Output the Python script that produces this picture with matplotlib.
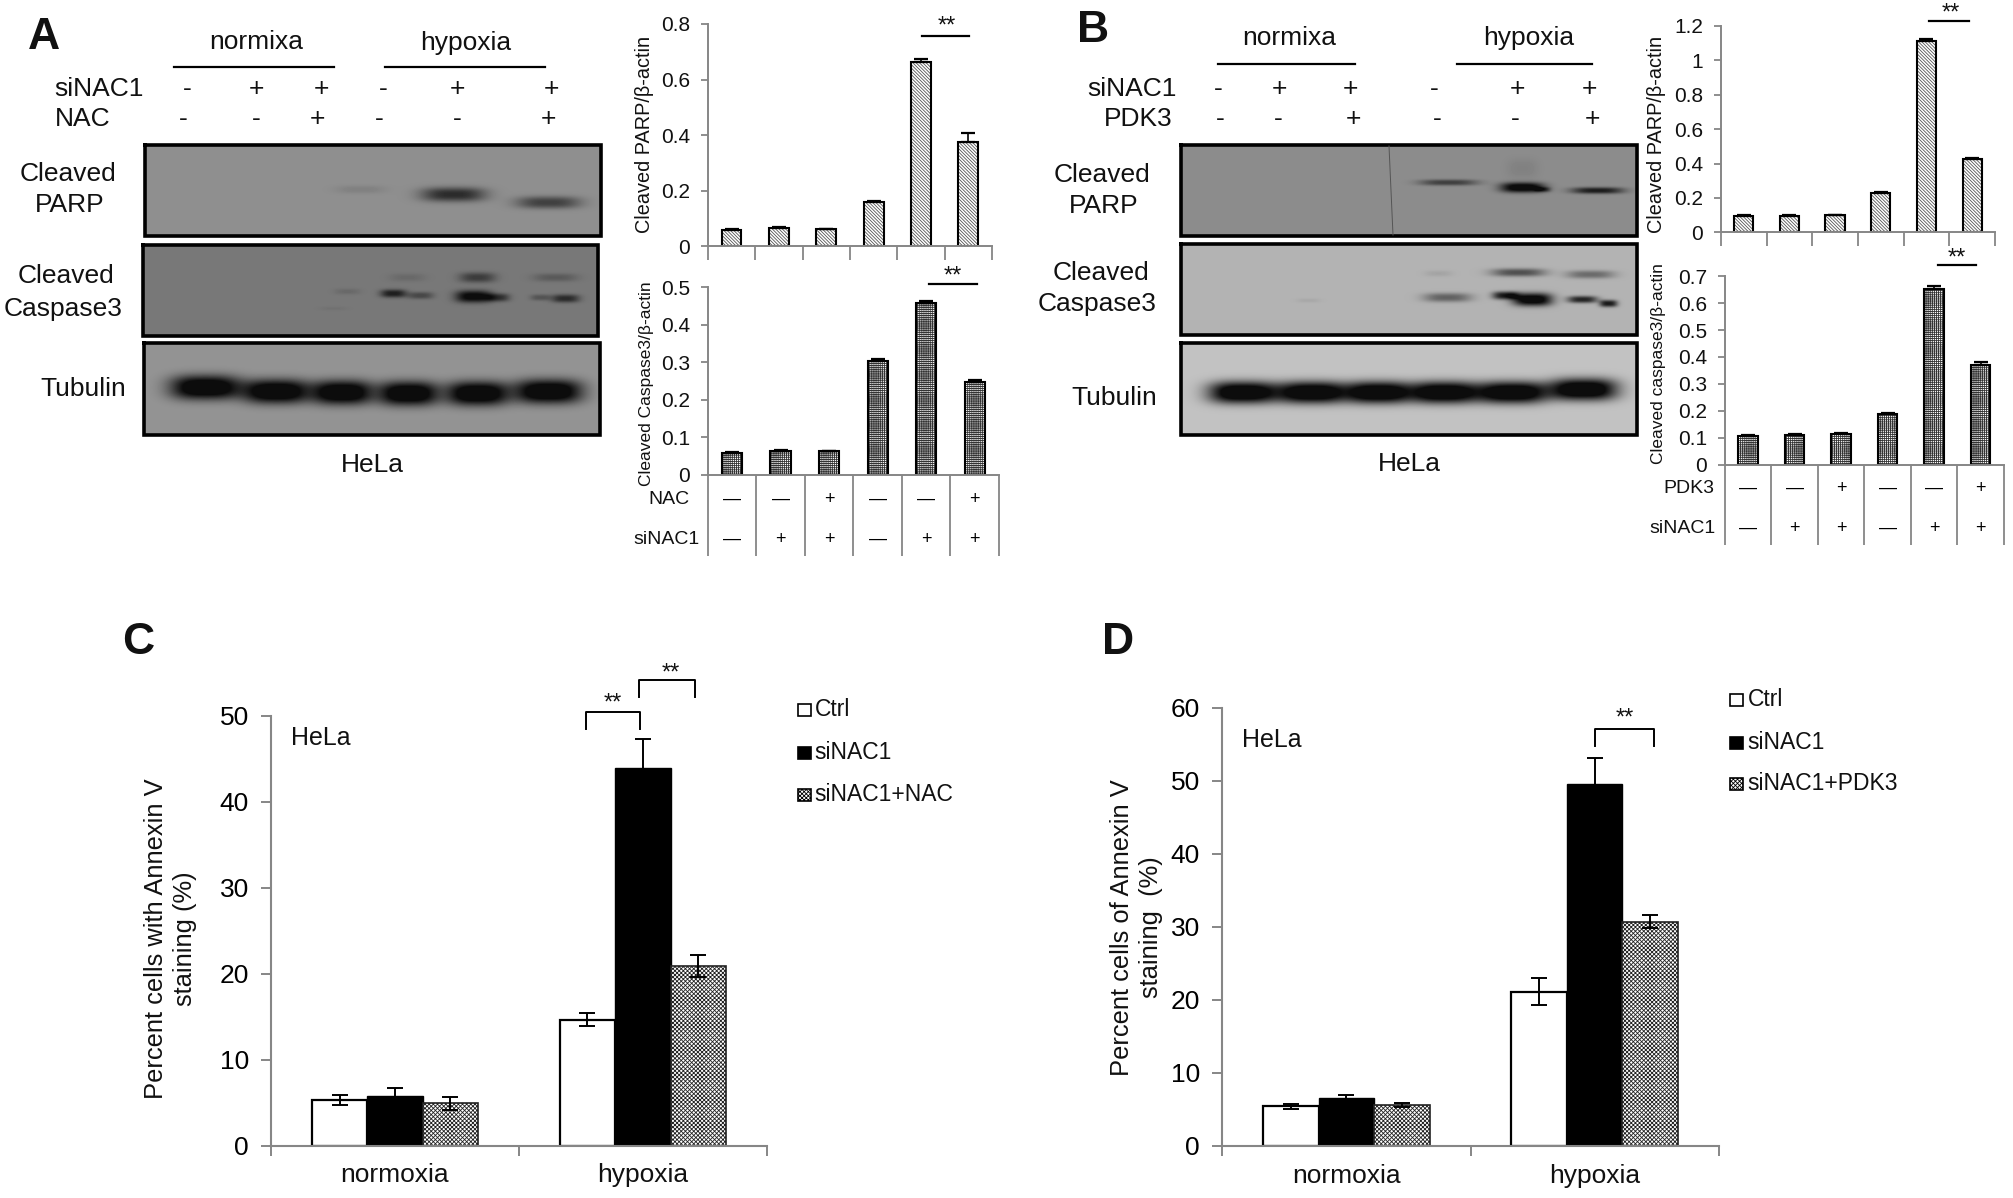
import matplotlib
matplotlib.use("Agg")
import matplotlib.pyplot as plt
import numpy as np
from matplotlib.transforms import blended_transform_factory

plt.rcParams["font.family"] = ["Liberation Sans", "DejaVu Sans"]
plt.rcParams["hatch.linewidth"] = 0.6

W, H = 2013, 1198
S = 0.997  # layout coordinates were read a little too large
GRAY = "#868686"

# western blot quantification, panels A and B
parp_a = [0.058, 0.066, 0.061, 0.159, 0.663, 0.376]
parp_a_err = [0.003, 0.003, 0.002, 0.004, 0.012, 0.030]
casp_a = [0.057, 0.064, 0.063, 0.304, 0.457, 0.247]
casp_a_err = [0.002, 0.002, 0.001, 0.003, 0.005, 0.005]
parp_b = [0.095, 0.095, 0.098, 0.229, 1.113, 0.426]
parp_b_err = [0.003, 0.003, 0.003, 0.005, 0.010, 0.004]
casp_b = [0.108, 0.111, 0.115, 0.189, 0.652, 0.370]
casp_b_err = [0.002, 0.003, 0.002, 0.002, 0.010, 0.012]

row_sinac1 = ["—", "+", "+", "—", "+", "+"]
row_drug = ["—", "—", "+", "—", "—", "+"]

# annexin V staining, panels C and D
groups = ["normoxia", "hypoxia"]
ctrl_c = [5.3, 14.65]
ctrl_c_err = [0.6, 0.75]
sinac_c = [5.8, 43.96]
sinac_c_err = [0.85, 3.4]
nac_c = [4.9, 20.9]
nac_c_err = [0.75, 1.25]
ctrl_d = [5.36, 21.1]
ctrl_d_err = [0.4, 1.85]
sinac_d = [6.55, 49.5]
sinac_d_err = [0.4, 3.6]
pdk_d = [5.57, 30.7]
pdk_d_err = [0.3, 0.9]

# blot bands: centre x, centre y, half width, half height, darkness
bands_a1 = [(360, 189, 25, 4, .1), (453, 194, 32, 7, .7), (548, 202, 32, 6, .55)]
bands_a2 = [(407, 277, 18, 4, .12), (393, 293, 13, 4, .75), (420, 295, 13, 3.5, .4),
            (477, 277, 18, 5, .5), (473, 296, 18, 6, 1), (497, 297, 12, 4, .6),
            (555, 277, 22, 4, .25), (540, 297, 10, 3, .3), (565, 298, 14, 4, .65),
            (347, 291, 13, 3, .12), (333, 308, 14, 2, .05)]
bands_a3 = [(205, 387, 35, 12, 1.2), (276, 391, 33, 12, 1.2), (342, 392, 30, 12, 1.2),
            (408, 393, 30, 12, 1.2), (477, 393, 31, 12, 1.2), (548, 391, 34, 12, 1.2)]
bands_b1 = [(1448, 182, 29, 3, .55), (1522, 187, 22, 5, 1.1), (1542, 189, 8, 2.5, .5),
            (1597, 190, 26, 3.2, .8), (1522, 168, 16, 10, .08)]
bands_b2 = [(1438, 273, 14, 3, .08), (1518, 272, 27, 4, .55), (1590, 274, 24, 4, .4),
            (1447, 297, 24, 4.5, .45), (1505, 295, 13, 4, .85), (1532, 299, 20, 6.5, 1.1),
            (1582, 299, 15, 3.5, .8), (1608, 303, 9, 3.5, .85), (1308, 300, 12, 2, .06)]
bands_b3 = [(1242, 392, 34, 11, 1.2), (1312, 392, 36, 11, 1.2), (1378, 392, 31, 11, 1.2),
            (1443, 392, 35, 11, 1.2), (1512, 392, 35, 11, 1.2), (1583, 389, 34, 11, 1.2)]

fig = plt.figure(figsize=(W / 100, H / 100), dpi=100)

# blots sit in true pixel coordinates
bl = fig.add_axes([0, 0, 1, 1], zorder=4)
bl.axis("off")
bl.patch.set_alpha(0)

ov = fig.add_axes([0, 0, 1, 1], zorder=5)
ov.set_xlim(0, W / S)
ov.set_ylim(H / S, 0)
ov.axis("off")
ov.patch.set_alpha(0)


def px_axes(l, t, r, b):
    l, t, r, b = l * S, t * S, r * S, b * S
    return fig.add_axes([l / W, 1 - b / H, (r - l) / W, (b - t) / H])


def label(x, y, s, size=19, ha="center", **kw):
    ov.text(x, y, s, fontsize=size, ha=ha, va="center", color="#111111", **kw)


def blot(l, t, r, b, bg, bands):
    xx, yy = np.meshgrid(np.arange(l, r), np.arange(t, b))
    img = np.full(xx.shape, bg, dtype=float)
    for xc, yc, hw, hh, dark in bands:
        img -= bg * dark * np.exp(-np.abs((xx - xc) / hw) ** 3 - np.abs((yy - yc) / hh) ** 2.5)
    bl.imshow(np.clip(img, 0.05, 1), cmap="gray", vmin=0, vmax=1, extent=(l, r, b, t),
              aspect="auto", interpolation="bilinear")
    bl.plot([l, r, r, l, l], [t, t, b, b, t], color="black", lw=2.6, solid_joinstyle="miter")


def small_bars(box, vals, errs, ymax, yticks, ticklabels, hatch, hatch_color, tick_len=14):
    ax = px_axes(*box)
    x = np.arange(6) + 0.5
    ax.bar(x, vals, width=0.42, color="white", edgecolor=hatch_color, linewidth=0, hatch=hatch)
    ax.bar(x, vals, width=0.42, color="none", edgecolor="black", linewidth=1.5)
    ax.errorbar(x, vals, yerr=[np.zeros(6), errs], fmt="none", ecolor="black",
                elinewidth=1.2, capsize=5, capthick=1.6)
    ax.set_xlim(0, 6)
    ax.set_ylim(0, ymax)
    ax.set_yticks(yticks)
    ax.set_yticklabels(ticklabels, fontsize=15, color="#111111")
    ax.set_xticks(np.arange(7))
    ax.set_xticklabels([])
    ax.tick_params(axis="y", color=GRAY, width=1.3, length=5, pad=8)
    ax.tick_params(axis="x", color=GRAY, width=1.3, length=tick_len * 0.72)
    for s in ["top", "right"]:
        ax.spines[s].set_visible(False)
    for s in ["left", "bottom"]:
        ax.spines[s].set_color(GRAY)
        ax.spines[s].set_linewidth(1.4)
    return ax


def sign_table(ax, y_drug, y_sinac, drug_name, x_right):
    tr = blended_transform_factory(ax.transData, ov.transData)
    for i in range(6):
        ov.text(i + 0.5, y_drug, row_drug[i], transform=tr, fontsize=13, ha="center", va="center")
        ov.text(i + 0.5, y_sinac, row_sinac1[i], transform=tr, fontsize=13, ha="center", va="center")
    label(x_right[0], y_drug, drug_name, size=14, ha="right")
    label(x_right[1], y_sinac, "siNAC1", size=14, ha="right")


def sig_line(x0, x1, y, xs, ys):
    ov.plot([x0, x1], [y, y], color="black", lw=1.6)
    label(xs, ys, "**", size=17)


def big_bars(box, a, a_e, b, b_e, c, c_e, ymax, yticks):
    ax = px_axes(*box)
    x = np.arange(2) + 0.5
    w = 0.2235
    ax.bar(x - w, a, w, color="white", edgecolor="black", linewidth=1.6)
    ax.bar(x, b, w, color="black", edgecolor="black", linewidth=1)
    ax.bar(x + w, c, w, color="white", edgecolor="#222222", linewidth=1.2, hatch="xxxxxxxx")
    for off, v, e in [(-w, a, a_e), (0, b, b_e), (w, c, c_e)]:
        ax.errorbar(x + off, v, yerr=e, fmt="none", ecolor="black", elinewidth=1.4,
                    capsize=5.5, capthick=1.4)
    ax.set_xlim(0, 2)
    ax.set_ylim(0, ymax)
    ax.set_yticks(yticks)
    ax.tick_params(axis="y", labelsize=19, color=GRAY, width=1.4, length=7, pad=9)
    ax.set_xticks([0, 1, 2])
    ax.set_xticklabels([])
    ax.tick_params(axis="x", color=GRAY, width=1.4, length=7)
    for s in ["top", "right"]:
        ax.spines[s].set_visible(False)
    for s in ["left", "bottom"]:
        ax.spines[s].set_color(GRAY)
        ax.spines[s].set_linewidth(1.5)
    return ax


def legend_items(x_box, x_text, ys, names):
    styles = [("white", None), ("black", None), ("white", "xxxxxxxx")]
    for y, name, (fc, hatch) in zip(ys, names, styles):
        ov.add_patch(plt.Rectangle((x_box, y - 6), 13, 12, facecolor=fc, edgecolor="black",
                                   linewidth=1.2, hatch=hatch))
        label(x_text, y, name, size=16.5, ha="left")


def bracket(x0, x1, top, bottom):
    ov.plot([x0, x0, x1, x1], [bottom, top, top, bottom], color="black", lw=1.4)


# panel letters
for x, y, s in [(44, 38, "A"), (1096, 31, "B"), (139, 644, "C"), (1121, 644, "D")]:
    label(x, y, s, size=32, fontweight="bold")

# panel A header
label(257, 42, "normixa")
label(467, 43, "hypoxia")
ov.plot([175, 335], [67, 67], color="black", lw=1.6)
ov.plot([386, 547], [67, 67], color="black", lw=1.6)
label(54, 89, "siNAC1", ha="left")
label(55, 119, "NAC", ha="left")
for x, s in zip([188, 257, 322, 384, 459, 553], "-++-++"):
    label(x, 89, s)
for x, s in zip([184, 257, 318, 380, 459, 550], "--+--+"):
    label(x, 119, s)
label(68, 175, "Cleaved")
label(70, 206, "PARP")
label(66, 277, "Cleaved")
label(63, 310, "Caspase3")
label(83, 390, "Tubulin")
label(373, 466, "HeLa")
blot(145, 145, 601, 236, 0.56, bands_a1)
blot(143, 245, 598, 336, 0.47, bands_a2)
blot(144, 343, 600, 435, 0.58, bands_a3)

# panel B header
label(1293, 38, "normixa")
label(1533, 38, "hypoxia")
ov.plot([1222, 1359], [64, 64], color="black", lw=1.6)
ov.plot([1461, 1597], [64, 64], color="black", lw=1.6)
label(1180, 89, "siNAC1", ha="right")
label(1176, 119, "PDK3", ha="right")
for x, s in zip([1222, 1283, 1355, 1439, 1522, 1594], "-++-++"):
    label(x, 89, s)
for x, s in zip([1224, 1282, 1358, 1442, 1520, 1597], "--+--+"):
    label(x, 119, s)
label(1105, 176, "Cleaved")
label(1107, 207, "PARP")
label(1104, 274, "Cleaved")
label(1100, 305, "Caspase3")
label(1118, 399, "Tubulin")
label(1414, 465, "HeLa")
blot(1181, 145, 1637, 236, 0.55, bands_b1)
bl.plot([1389, 1393], [146, 235], color="#555555", lw=0.7)
blot(1181, 244, 1637, 335, 0.70, bands_b2)
blot(1181, 343, 1637, 435, 0.76, bands_b3)
bl.set_xlim(0, W)
bl.set_ylim(H, 0)

# small bar charts A
ax = small_bars((710, 24, 995, 247), parp_a, parp_a_err, 0.8, [0, .2, .4, .6, .8],
                ["0", "0.2", "0.4", "0.6", "0.8"], "\\\\\\\\\\\\\\\\\\\\", "#555555")
ax = small_bars((710, 288, 1002, 476), casp_a, casp_a_err, 0.5, [0, .1, .2, .3, .4, .5],
                ["0", "0.1", "0.2", "0.3", "0.4", "0.5"], "++++++++", "#333333", tick_len=81)
sign_table(ax, 501, 541, "NAC", (692, 702))
label(646, 135, "Cleaved PARP/β-actin", size=14.3, rotation=90)
label(648, 385, "Cleaved Caspase3/β-actin", size=12.5, rotation=90)
sig_line(925, 972, 36, 950, 27)
sig_line(932, 980, 285, 956, 277)

# small bar charts B
ax = small_bars((1726, 26, 2001, 233), parp_b, parp_b_err, 1.2, [0, .2, .4, .6, .8, 1, 1.2],
                ["0", "0.2", "0.4", "0.6", "0.8", "1", "1.2"], "\\\\\\\\\\\\\\\\\\\\", "#555555")
ax = small_bars((1730, 277, 2010, 466), casp_b, casp_b_err, 0.7, [0, .1, .2, .3, .4, .5, .6, .7],
                ["0", "0.1", "0.2", "0.3", "0.4", "0.5", "0.6", "0.7"], "++++++++", "#333333", tick_len=80)
sign_table(ax, 490, 530, "PDK3", (1720, 1721))
label(1661, 135, "Cleaved PARP/β-actin", size=14.3, rotation=90)
label(1663, 365, "Cleaved caspase3/β-actin", size=12.5, rotation=90)
sig_line(1935, 1975, 21, 1957, 14)
sig_line(1944, 1982, 266, 1963, 259)

# panel C
ax = big_bars((272, 718, 769, 1149), ctrl_c, ctrl_c_err, sinac_c, sinac_c_err, nac_c, nac_c_err,
              50, [0, 10, 20, 30, 40, 50])
label(396, 1179, groups[0])
label(645, 1179, groups[1])
label(292, 740, "HeLa", ha="left", size=18)
label(171, 942, "Percent cells with Annexin V\nstaining (%)", size=18.4, rotation=90, linespacing=1.25)
legend_items(800, 817, [712, 755, 797], ["Ctrl", "siNAC1", "siNAC1+NAC"])
bracket(588, 642, 714, 731)
bracket(641, 697, 682, 699)
label(615, 706, "**", size=17)
label(673, 676, "**", size=17)

# panel D
ax = big_bars((1226, 710, 1724, 1149), ctrl_d, ctrl_d_err, sinac_d, sinac_d_err, pdk_d, pdk_d_err,
              60, [0, 10, 20, 30, 40, 50, 60])
label(1351, 1180, groups[0])
label(1599, 1180, groups[1])
label(1246, 742, "HeLa", ha="left", size=18)
label(1140, 930, "Percent cells of Annexin V\nstaining  (%)", size=18.4, rotation=90, linespacing=1.25)
legend_items(1735, 1753, [702, 745, 786], ["Ctrl", "siNAC1", "siNAC1+PDK3"])
bracket(1600, 1659, 731, 748)
label(1630, 721, "**", size=17)

fig.savefig("out.png", dpi=100)
